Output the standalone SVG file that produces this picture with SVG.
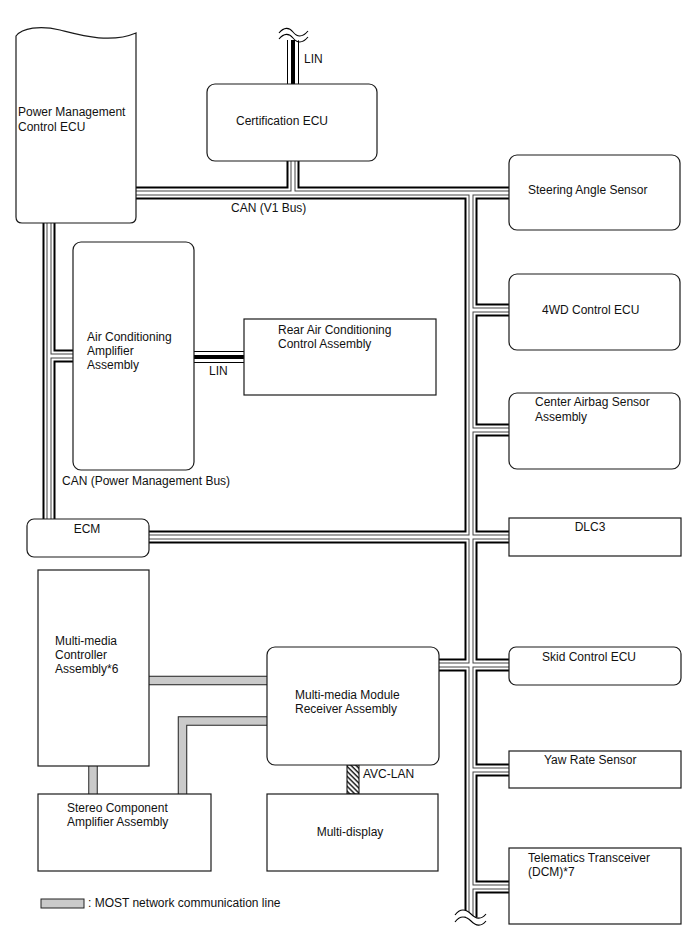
<svg xmlns="http://www.w3.org/2000/svg" xmlns:xlink="http://www.w3.org/1999/xlink" width="688" height="949" viewBox="0 0 688 949">
<style>
.box{fill:#fff;stroke:#1a1a1a;stroke-width:1.2}
text{font-family:"Liberation Sans",Arial,sans-serif;font-size:12px;fill:#111}
.c1{fill:none;stroke:#000;stroke-width:13}
.c2{fill:none;stroke:#fff;stroke-width:9}
.c3{fill:none;stroke:#444;stroke-width:5}
.c4{fill:none;stroke:#fff;stroke-width:3}
.l1{fill:none;stroke:#000;stroke-width:12}
.l2{fill:none;stroke:#fff;stroke-width:10}
.l3{fill:none;stroke:#000;stroke-width:4}
.m1{fill:none;stroke:#222;stroke-width:9.5}
.m2{fill:none;stroke:#cacaca;stroke-width:7.5}
.wave{fill:none;stroke:#000;stroke-width:1.1}
</style>
<defs>
<path id="can" d="M136,193H509 M293,161V193 M471,193V917 M471,310H509 M471,430H509 M149,537H509 M439,665H509 M471,770H509 M471,887H509 M49,223V519 M49,356H73"/>
<path id="lin" d="M293,40V84 M194,357H244"/>
<path id="most" d="M149,680.5H267 M267,721H182.5V794 M93,766V794"/>
<pattern id="hatch" patternUnits="userSpaceOnUse" width="3.5" height="3.5" patternTransform="rotate(-45)">
<rect width="3.5" height="3.5" fill="#fff"/>
<line x1="1" y1="0" x2="1" y2="3.5" stroke="#000" stroke-width="1.3"/>
</pattern>
</defs>
<rect width="688" height="949" fill="#fff"/>
<g id="connectors">
<use xlink:href="#can" class="c1"/>
<use xlink:href="#can" class="c2"/>
<use xlink:href="#can" class="c3"/>
<use xlink:href="#can" class="c4"/>
<use xlink:href="#lin" class="l1"/>
<use xlink:href="#lin" class="l2"/>
<use xlink:href="#lin" class="l3"/>
<use xlink:href="#most" class="m1" stroke-linejoin="miter"/>
<use xlink:href="#most" class="m2" stroke-linejoin="miter"/>
<rect x="347" y="765" width="12" height="29" fill="url(#hatch)" stroke="#000" stroke-width="1"/>
<path d="M279,33 C284,27 289,27 293,32 S302,38 308,31 V37 C302,44 297,40 293,37 S284,34 279,40 Z" fill="#fff" stroke="none"/>
<path class="wave" d="M279,33 C284,27 289,27 293,32 S302,38 308,31"/>
<path class="wave" d="M279,39 C284,33 289,33 293,38 S302,44 308,37"/>
<path d="M455,915 C460,908 466,909 471,914 S481,920 486,914 V921 C481,927 476,925 471,920 S460,915 455,922 Z" fill="#fff" stroke="none"/>
<path class="wave" d="M455,915 C460,908 466,909 471,914 S481,920 486,914"/>
<path class="wave" d="M455,922 C460,915 466,916 471,921 S481,927 486,921"/>
<text x="304" y="63">LIN</text>
<text x="231" y="212">CAN (V1 Bus)</text>
<text x="209" y="375">LIN</text>
<text x="62" y="485">CAN (Power Management Bus)</text>
<text x="363" y="778">AVC-LAN</text>
</g>
<g id="pm-ecu">
<path class="box" d="M16,36 C22,28 40,25 60,30 S110,44 136,33 V217 Q136,223 130,223 H22 Q16,223 16,217 Z"/>
<text x="18" y="116">Power Management</text>
<text x="18" y="131">Control ECU</text>
</g>
<g id="certification-ecu">
<rect class="box" x="207" y="84" width="170" height="77" rx="8"/>
<text x="236" y="125">Certification ECU</text>
</g>
<g id="steering-angle-sensor">
<rect class="box" x="509" y="155" width="171" height="75" rx="8"/>
<text x="528" y="194">Steering Angle Sensor</text>
</g>
<g id="4wd-control-ecu">
<rect class="box" x="509" y="274" width="171" height="76" rx="8"/>
<text x="542" y="314">4WD Control ECU</text>
</g>
<g id="center-airbag">
<rect class="box" x="509" y="393" width="171" height="76" rx="8"/>
<text x="535" y="406">Center Airbag Sensor</text>
<text x="535" y="421">Assembly</text>
</g>
<g id="ac-amplifier">
<rect class="box" x="73" y="242" width="121" height="228" rx="8"/>
<text x="87" y="341">Air Conditioning</text>
<text x="87" y="355">Amplifier</text>
<text x="87" y="369">Assembly</text>
</g>
<g id="rear-ac">
<rect class="box" x="244" y="319" width="192" height="76"/>
<text x="278" y="334">Rear Air Conditioning</text>
<text x="278" y="348">Control Assembly</text>
</g>
<g id="ecm">
<rect class="box" x="27" y="519" width="122" height="38" rx="7"/>
<text x="87" y="533" text-anchor="middle">ECM</text>
</g>
<g id="dlc3">
<rect class="box" x="509" y="518" width="172" height="38"/>
<text x="590" y="531" text-anchor="middle">DLC3</text>
</g>
<g id="mm-controller">
<rect class="box" x="38" y="570" width="111" height="196"/>
<text x="55" y="645">Multi-media</text>
<text x="55" y="659">Controller</text>
<text x="55" y="673">Assembly*6</text>
</g>
<g id="mm-module">
<rect class="box" x="267" y="647" width="172" height="118" rx="8"/>
<text x="295" y="699">Multi-media Module</text>
<text x="295" y="713">Receiver Assembly</text>
</g>
<g id="skid-control-ecu">
<rect class="box" x="509" y="647" width="172" height="38" rx="7"/>
<text x="542" y="661">Skid Control ECU</text>
</g>
<g id="stereo-amplifier">
<rect class="box" x="38" y="794" width="173" height="77"/>
<text x="67" y="812">Stereo Component</text>
<text x="67" y="826">Amplifier Assembly</text>
</g>
<g id="multi-display">
<rect class="box" x="267" y="794" width="171" height="77"/>
<text x="350" y="836" text-anchor="middle">Multi-display</text>
</g>
<g id="yaw-rate-sensor">
<rect class="box" x="509" y="751" width="172" height="37"/>
<text x="544" y="764">Yaw Rate Sensor</text>
</g>
<g id="telematics">
<rect class="box" x="509" y="848" width="172" height="76"/>
<text x="528" y="862">Telematics Transceiver</text>
<text x="528" y="876">(DCM)*7</text>
</g>
<g id="legend">
<rect x="41" y="899" width="43" height="9" fill="#cacaca" stroke="#222" stroke-width="1"/>
<text x="88" y="907">: MOST network communication line</text>
</g>
</svg>
